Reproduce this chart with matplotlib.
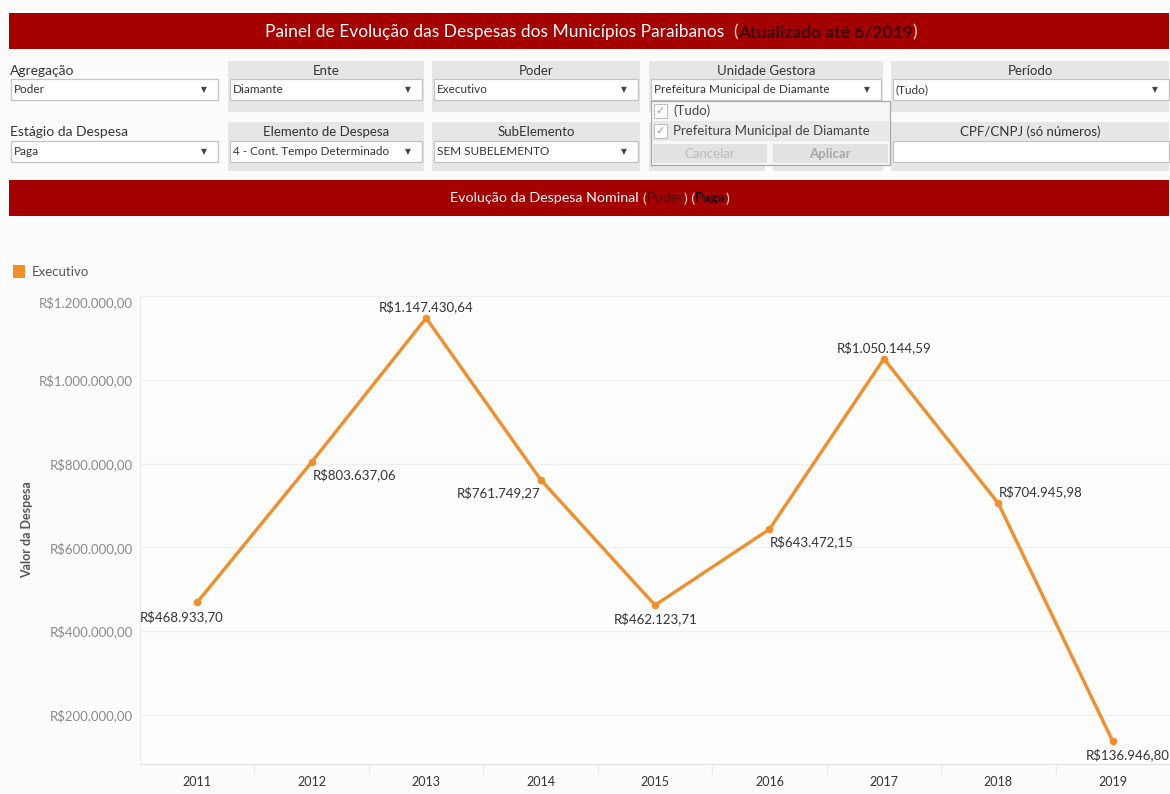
#!/usr/bin/env python3
"""Painel de despesas: linha da despesa nominal por ano, com a barra de filtros do painel."""

from __future__ import annotations

import matplotlib

matplotlib.use("Agg")
import matplotlib.pyplot as plt
from matplotlib.patches import Rectangle
from matplotlib.ticker import FixedLocator, FuncFormatter

W, H = 1170, 794
FONT = ["Lato", "DejaVu Sans"]
SYM = ["DejaVu Sans"]

RED = "#a50000"
ORANGE = "#f28e2b"
PANEL = "#e6e6e6"

# data
years = ["2011", "2012", "2013", "2014", "2015", "2016", "2017", "2018", "2019"]
despesa = [468933.70, 803637.06, 1147430.64, 761749.27, 462123.71,
           643472.15, 1050144.59, 704945.98, 136946.80]
serie = "Executivo"
y_ticks = [200000, 400000, 600000, 800000, 1000000, 1200000]

# (texto, valor selecionado) dos filtros, linha 1 e linha 2
filtros_l1 = [("Agregação", "Poder"), ("Ente", "Diamante"), ("Poder", "Executivo"),
              ("Unidade Gestora", "Prefeitura Municipal de Diamante"), ("Período", "(Tudo)")]
filtros_l2 = [("Estágio da Despesa", "Paga"), ("Elemento de Despesa", "4 - Cont. Tempo Determinado"),
              ("SubElemento", "SEM SUBELEMENTO")]
popup_itens = ["(Tudo)", "Prefeitura Municipal de Diamante"]

# onde cada rótulo de valor fica em relação ao ponto (ha, dx px, dy px)
label_place = [("center", -16, -14), ("left", 1, -13), ("center", 0, 11),
               ("right", 0, -13), ("center", 1, -14), ("left", 0, -13),
               ("center", 0, 11), ("left", 0, 12), ("center", 15, -13)]


def brl(v: float) -> str:
    s = f"{v:,.2f}".replace(",", "X").replace(".", ",").replace("X", ".")
    return "R$" + s


def box(ax, x0, y0, x1, y1, fc, ec="none", lw=0.8, z=1):
    ax.add_patch(Rectangle((x0, y0), x1 - x0, y1 - y0, facecolor=fc, edgecolor=ec, lw=lw, zorder=z))


def seg_text(fig, ax, xc, y, parts, size):
    r = fig.canvas.get_renderer()
    objs = []
    for s, color, weight in parts:
        objs.append(ax.text(0, y, s, color=color, fontsize=size, fontweight=weight,
                            va="center", ha="left", family=FONT, zorder=5))
    widths = [t.get_window_extent(r).width for t in objs]
    x = xc - sum(widths) / 2
    for t, w in zip(objs, widths):
        t.set_x(x)
        x += w


def dropdown(bg, x0, x1, y0, y1, value, arrow=True, size=8.5):
    box(bg, x0, y0, x1, y1, "white", ec="#c4c4c4", lw=0.9, z=2)
    if value:
        bg.text(x0 + 3, (y0 + y1) / 2, value, fontsize=size, color="#333333",
                va="center", ha="left", family=FONT, zorder=3)
    if arrow:
        bg.text(x1 - 14, (y0 + y1) / 2, "▼", fontsize=5.5, color="#444444",
                va="center", ha="center", family=SYM, zorder=3)


def draw_dashboard(fig, bg):
    # barra do titulo
    box(bg, 9, 13, 1169, 49, RED)
    seg_text(fig, bg, 591, 32.5, [
        ("Painel de Evolução das Despesas dos Municípios Paraibanos  ", "#ffffff", "normal"),
        ("(", "#f7dcc0", "normal"),
        ("Atualizado até 6/2019", "#3a0000", "bold"),
        (")", "#f7dcc0", "normal"),
    ], 12.5)

    # filtros, linha 1
    cols = [(10, 218), (228, 424), (432, 640), (649, 883), (891, 1169)]
    for i, ((titulo, valor), (x0, x1)) in enumerate(zip(filtros_l1, cols)):
        if i == 0:
            bg.text(x0, 71, titulo, fontsize=10, color="#333333", va="center", family=FONT)
            dropdown(bg, x0 + 1, x1, 79, 100, valor)
        else:
            box(bg, x0, 61, x1, 112, PANEL)
            bg.text((x0 + x1) / 2, 71, titulo, fontsize=9.5, color="#333333",
                    va="center", ha="center", family=FONT, zorder=3)
            dropdown(bg, x0 + 2, x1 - 2 if i < 4 else x1, 79, 100, valor)

    # filtros, linha 2
    for i, ((titulo, valor), (x0, x1)) in enumerate(zip(filtros_l2, cols)):
        if i == 0:
            bg.text(x0, 132, titulo, fontsize=10, color="#333333", va="center", family=FONT)
            dropdown(bg, x0 + 1, x1, 141, 162, valor)
        else:
            box(bg, x0, 122, x1, 171, PANEL)
            bg.text((x0 + x1) / 2, 132, titulo, fontsize=9.5, color="#333333",
                    va="center", ha="center", family=FONT, zorder=3)
            dropdown(bg, x0 + 2, x1 - 2, 141, 162, valor)
    box(bg, 649, 122, 765, 171, PANEL)
    box(bg, 773, 122, 883, 171, PANEL)
    box(bg, 891, 122, 1169, 171, PANEL)
    bg.text(1030, 132, "CPF/CNPJ (só números)", fontsize=9.5, color="#333333",
            va="center", ha="center", family=FONT, zorder=3)
    dropdown(bg, 893, 1169, 141, 162, "", arrow=False)

    # lista aberta da Unidade Gestora
    box(bg, 651, 101, 890, 165, "#f7f7f7", ec="#a8a8a8", lw=0.9, z=6)
    box(bg, 652, 121, 889, 141, "#e9e9e9", z=6)
    for k, item in enumerate(popup_itens):
        yc = 111 + 20 * k
        box(bg, 654, yc - 7, 667, yc + 7, "white", ec="#bdbdbd", lw=0.8, z=7)
        bg.text(660.5, yc, "✓", fontsize=8, color="#9a9a9a", ha="center", va="center",
                family=SYM, zorder=8)
        bg.text(673, yc, item, fontsize=9.5, color="#444444", ha="left", va="center",
                family=FONT, zorder=8)
    box(bg, 653, 144, 767, 163, "#e2e2e2", z=7)
    box(bg, 773, 144, 888, 163, "#e2e2e2", z=7)
    bg.text(710, 153.5, "Cancelar", fontsize=9.5, color="#bcbcbc", ha="center", va="center",
            family=FONT, zorder=8)
    bg.text(830, 153.5, "Aplicar", fontsize=9.5, color="#a8a8a8", ha="center", va="center",
            family=FONT, fontweight="bold", zorder=8)

    # barra do grafico
    box(bg, 9, 180, 1169, 216, RED)
    seg_text(fig, bg, 590, 198.5, [
        ("Evolução da Despesa Nominal ", "#ffffff", "normal"),
        ("(", "#f7dcc0", "normal"),
        ("Poder", "#4a1010", "normal"),
        (") (", "#f7dcc0", "normal"),
        ("Paga", "#1a0000", "bold"),
        (")", "#f7dcc0", "normal"),
    ], 10.3)

    # legenda e titulo do eixo
    box(bg, 13, 265, 25, 278, ORANGE)
    bg.text(32, 272, serie, fontsize=9.5, color="#555555", va="center", family=FONT)
    bg.text(27, 530, "Valor da Despesa", fontsize=9, color="#555555", fontweight="bold",
            rotation=90, va="center", ha="center", family=FONT)


def draw_chart(fig):
    ax = fig.add_axes([140 / W, 30 / H, 1030 / W, 468 / H])
    ax.set_facecolor("#fdfdfd")
    xs = list(range(len(years)))
    ax.plot(xs, despesa, color=ORANGE, lw=2.4, marker="o", ms=4.5, zorder=3,
            solid_joinstyle="miter")
    ax.set_xlim(-0.5, len(years) - 0.5)
    ax.set_ylim(83000, 1200000)

    ax.yaxis.set_major_locator(FixedLocator(y_ticks))
    ax.yaxis.set_major_formatter(FuncFormatter(lambda v, _: brl(v)))
    ax.grid(axis="y", color="#efefef", lw=0.9)
    ax.set_axisbelow(True)
    ax.tick_params(axis="y", length=0, pad=5, labelsize=9.5, labelcolor="#8a8a8a")
    for lab in ax.get_yticklabels():
        lab.set_fontfamily(FONT)
    ax.get_yticklabels()[-1].set_verticalalignment("top")

    ax.set_xticks(xs)
    ax.set_xticklabels(years, fontsize=9, color="#333333", family=FONT)
    ax.set_xticks([x + 0.5 for x in xs[:-1]], minor=True)
    ax.tick_params(axis="x", which="major", length=0, pad=9)
    ax.tick_params(axis="x", which="minor", length=7, color="#e8e8e8", width=0.8)

    for side in ("top", "right"):
        ax.spines[side].set_visible(False)
    ax.spines["left"].set_color("#eaeaea")
    ax.spines["bottom"].set_color("#e2e2e2")

    for x, v, (ha, dx, dy) in zip(xs, despesa, label_place):
        ax.annotate(brl(v), (x, v), xytext=(dx, dy), textcoords="offset pixels",
                    ha=ha, va="center", fontsize=9.5, color="#333333", family=FONT,
                    annotation_clip=False, zorder=4)
    return ax


def main() -> int:
    fig = plt.figure(figsize=(W / 100, H / 100), dpi=100, facecolor="#fcfcfc")
    bg = fig.add_axes([0, 0, 1, 1])
    bg.set_xlim(0, W)
    bg.set_ylim(H, 0)
    bg.axis("off")
    bg.patch.set_alpha(0)
    draw_dashboard(fig, bg)
    draw_chart(fig)
    fig.savefig("out.png", dpi=100, facecolor=fig.get_facecolor())
    return 0


if __name__ == "__main__":
    raise SystemExit(main())
